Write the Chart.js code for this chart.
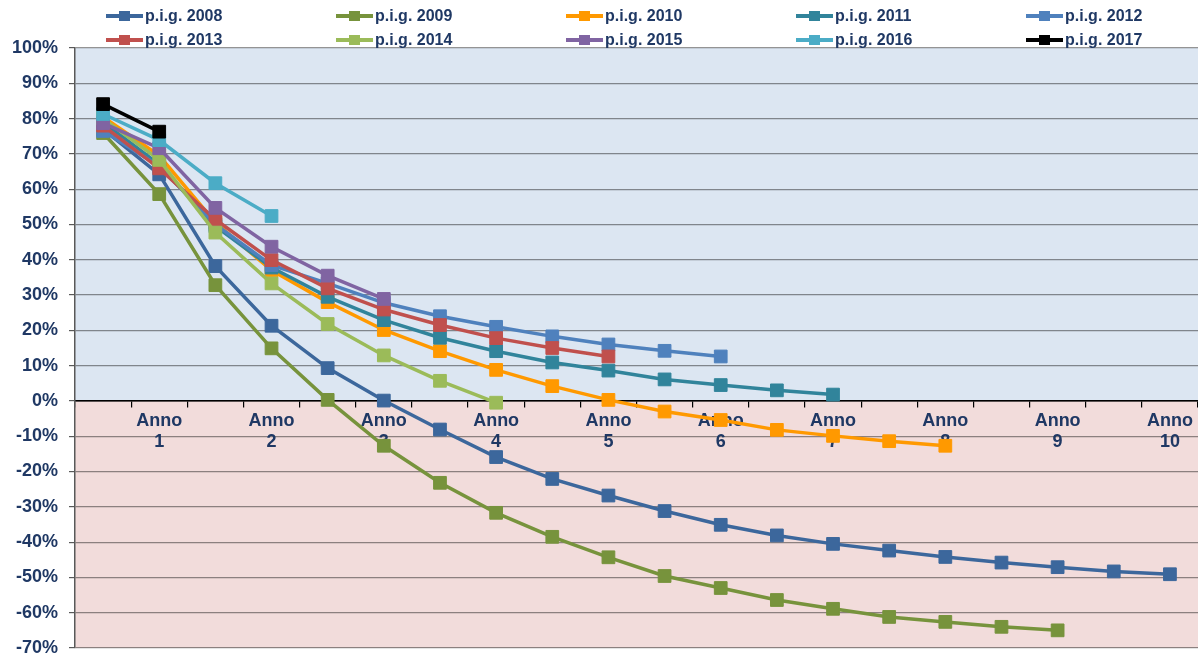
<!DOCTYPE html>
<html>
<head>
<meta charset="utf-8">
<script src="https://cdn.jsdelivr.net/npm/chart.js@4"></script>
<style>
  body { margin: 0; background: #fff; }
  #wrap { position: relative; width: 1198px; height: 657px; }
  #legend { position: absolute; left: 0; top: 0; width: 1198px; height: 48px;
    font: bold 16px "Liberation Sans", Arial, sans-serif; color: #1f3864; }
  .item { position: absolute; height: 20px; display: flex; align-items: center; white-space: nowrap; }
  .sym { position: relative; width: 37px; height: 10px; margin-right: 2px; }
  .sym .ln { position: absolute; left: 0; right: 0; top: 3px; height: 4px; }
  .sym .mk { position: absolute; left: 13px; top: 0; width: 11px; height: 10px; }
</style>
</head>
<body>
<div id="wrap">
  <canvas id="chart" width="1198" height="657"></canvas>
  <div id="legend"></div>
</div>
<script>
// half-year steps, label under each full year
const xTickLabels = ['', ['Anno', '1'], '', ['Anno', '2'], '', ['Anno', '3'], '', ['Anno', '4'], '', ['Anno', '5'],
  '', ['Anno', '6'], '', ['Anno', '7'], '', ['Anno', '8'], '', ['Anno', '9'], '', ['Anno', '10']];

const seriesNames = ['p.i.g. 2008', 'p.i.g. 2009', 'p.i.g. 2010', 'p.i.g. 2011', 'p.i.g. 2012',
  'p.i.g. 2013', 'p.i.g. 2014', 'p.i.g. 2015', 'p.i.g. 2016', 'p.i.g. 2017'];
const seriesColors = ['#3c679c', '#77933c', '#ff9900', '#31849b', '#4f81bd',
  '#c0504d', '#9bbb59', '#8064a2', '#4bacc6', '#000000'];

const pig2008 = [77, 64.2, 38.2, 21.3, 9.3, 0.1, -8.1, -15.9, -22.1, -26.8, -31.2, -35.1, -38.1, -40.5, -42.4, -44.2, -45.8, -47.1, -48.3, -49.1];
const pig2009 = [75.9, 58.6, 32.8, 14.9, 0.3, -12.7, -23.2, -31.7, -38.5, -44.3, -49.6, -53.0, -56.4, -58.9, -61.2, -62.6, -64.0, -65.0];
const pig2010 = [80.5, 69.5, 50.5, 37.0, 28.0, 20.1, 14.1, 8.8, 4.2, 0.3, -3.0, -5.4, -8.2, -9.9, -11.4, -12.7];
const pig2011 = [79, 67, 49.5, 37.8, 29.5, 22.9, 17.9, 14.1, 10.9, 8.6, 6.1, 4.5, 3.0, 1.8];
const pig2012 = [76.5, 66.5, 50, 38.5, 33.3, 27.8, 24.0, 21.0, 18.3, 16.0, 14.2, 12.6];
const pig2013 = [78, 65.9, 51.4, 39.9, 31.9, 25.9, 21.5, 17.8, 15.0, 12.6];
const pig2014 = [80, 68.3, 47.7, 33.3, 21.8, 12.9, 5.7, -0.5];
const pig2015 = [78.7, 71.6, 54.7, 43.7, 35.5, 28.9];
const pig2016 = [81.3, 73.9, 61.7, 52.4];
const pig2017 = [84.1, 76.3];

const seriesData = [pig2008, pig2009, pig2010, pig2011, pig2012, pig2013, pig2014, pig2015, pig2016, pig2017];

const textColor = '#1f3864';
const fontFamily = '"Liberation Sans", Arial, sans-serif';

// legend, 2 rows of 5
const legend = document.getElementById('legend');
seriesNames.forEach((name, i) => {
  const col = i % 5, row = Math.floor(i / 5);
  const it = document.createElement('div');
  it.className = 'item';
  it.style.left = (106 + 230 * col) + 'px';
  it.style.top = (row === 0 ? 6 : 29.5) + 'px';
  it.innerHTML = '<span class="sym"><span class="ln" style="background:' + seriesColors[i] +
    '"></span><span class="mk" style="background:' + seriesColors[i] + '"></span></span>' + name;
  legend.appendChild(it);
});

const bands = {
  id: 'bands',
  beforeDraw(chart) {
    const { ctx, chartArea: a, scales: { y } } = chart;
    const z = y.getPixelForValue(0);
    ctx.save();
    ctx.fillStyle = '#dce6f2';
    ctx.fillRect(a.left, a.top, a.right - a.left, z - a.top);
    ctx.fillStyle = '#f2dcdb';
    ctx.fillRect(a.left, z, a.right - a.left, a.bottom - z);
    ctx.restore();
  }
};

// labels may overflow, the layout padding is enough
const noOverflow = (s) => {
  s.paddingLeft = 0; s.paddingRight = 0; s.paddingTop = 0; s.paddingBottom = 0;
};

const ctx = document.getElementById('chart').getContext('2d');
new Chart(ctx, {
  type: 'line',
  plugins: [bands],
  data: {
    labels: xTickLabels,
    datasets: seriesData.map((d, i) => ({
      label: seriesNames[i],
      data: d,
      borderColor: seriesColors[i],
      backgroundColor: seriesColors[i],
      borderWidth: 3.5,
      pointStyle: 'rect',
      pointRadius: 9,
      pointBorderWidth: 1,
      pointBorderColor: seriesColors[i],
      tension: 0,
      order: 10 - i, // later years on top
    })),
  },
  options: {
    responsive: false,
    animation: false,
    layout: { autoPadding: false, padding: { top: 48, bottom: 9, left: 0, right: 0 } },
    plugins: {
      legend: { display: false },
      tooltip: { enabled: false },
    },
    scales: {
      x: {
        position: { y: 0 },
        offset: true,
        afterFit: noOverflow,
        grid: { offset: true, drawOnChartArea: false, tickLength: 6, tickColor: '#000', lineWidth: 1.2 },
        border: { color: '#000', width: 1.5 },
        ticks: {
          autoSkip: false,
          maxRotation: 0,
          padding: 4,
          color: textColor,
          font: { family: fontFamily, size: 18, weight: 'bold', lineHeight: 1.17 },
        },
      },
      y: {
        min: -70,
        max: 100,
        afterFit: (s) => { s.width = 75; noOverflow(s); },
        ticks: {
          stepSize: 10,
          padding: 11,
          color: textColor,
          font: { family: fontFamily, size: 18, weight: 'bold', lineHeight: 1 },
          callback: (v) => v + '%',
        },
        grid: {
          color: (c) => (c.tick && c.tick.value === 0 ? '#000' : 'rgba(0,0,0,0.42)'),
          lineWidth: 1.2,
          tickLength: 6,
          tickColor: '#595959',
        },
        border: { color: '#595959', width: 1.5 },
      },
    },
  },
});
</script>
</body>
</html>
